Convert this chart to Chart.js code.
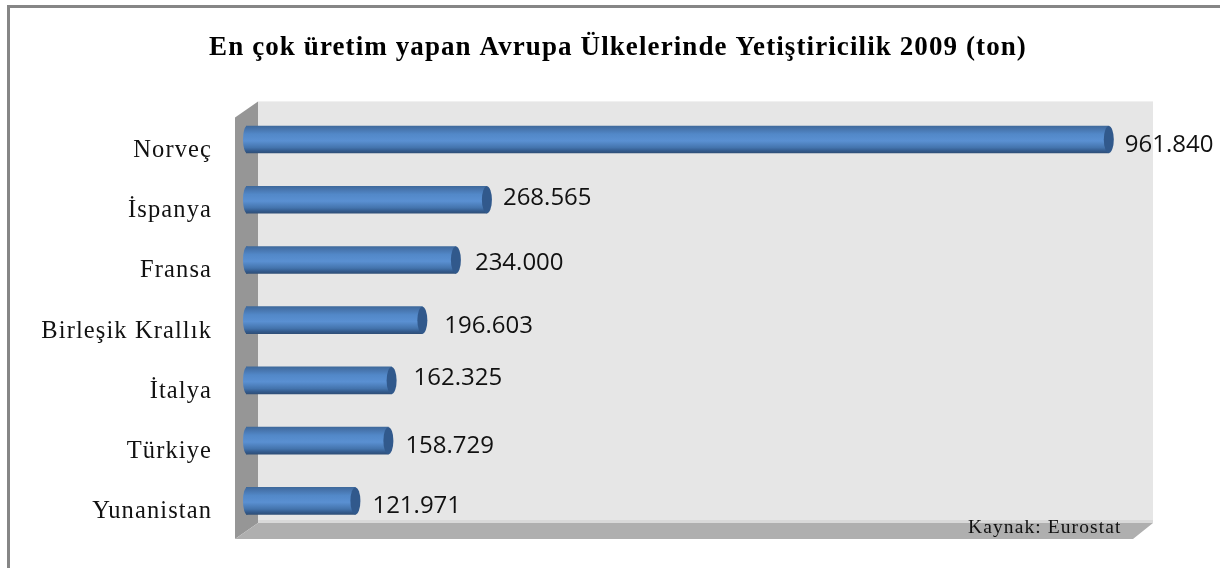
<!DOCTYPE html>
<html>
<head>
<meta charset="utf-8">
<style>
html, body { margin: 0; padding: 0; background: #fff; overflow: hidden; }
canvas { display: block; }
</style>
<script src="https://cdn.jsdelivr.net/npm/chart.js@4"></script>
</head>
<body>
<canvas id="chart" width="1220" height="568"></canvas>
<script>
const chartTitle = 'En çok üretim yapan Avrupa Ülkelerinde Yetiştiricilik 2009 (ton)';
const sourceNote = 'Kaynak: Eurostat';
const countries = ['Norveç', 'İspanya', 'Fransa', 'Birleşik Krallık', 'İtalya', 'Türkiye', 'Yunanistan'];
const production = [961840, 268565, 234000, 196603, 162325, 158729, 121971];
const valueLabels = ['961.840', '268.565', '234.000', '196.603', '162.325', '158.729', '121.971'];
// hand placed label nudges from the original, relative to the bar end
const labelNudgeX = [16, 16, 19, 22, 22, 17, 17];
const labelNudgeY = [6, -2, 3, 6, -2, 5, 5];

const BAR_H = 27;

function barGradient(ctx, y) {
    const g = ctx.createLinearGradient(0, y - BAR_H / 2, 0, y + BAR_H / 2);
    g.addColorStop(0, '#3f6a9c');
    g.addColorStop(0.1, '#4673ab');
    g.addColorStop(0.3, '#5288c8');
    g.addColorStop(0.55, '#5a90d2');
    g.addColorStop(0.8, '#4474ad');
    g.addColorStop(0.92, '#335a8c');
    g.addColorStop(1, '#2f4f78');
    return g;
}

// frame and the fake 3d walls behind the bars
const backdrop = {
    id: 'backdrop',
    beforeDraw(chart) {
        // the original text is stretched, title and axis labels alike
        chart.ctx.letterSpacing = '1.1px';
    },
    beforeDatasetsDraw(chart) {
        const { ctx, chartArea: a } = chart;
        ctx.save();
        ctx.fillStyle = '#868686';
        ctx.fillRect(7, 5, 1213, 3);
        ctx.fillRect(7, 5, 3, 563);

        const wallL = a.left + 12, wallR = a.right - 67;
        const wallT = a.top - 8, wallB = a.bottom - 8;
        const sideL = a.left - 11, sideR = wallR - 20;
        ctx.fillStyle = '#e6e6e6';
        ctx.fillRect(wallL, wallT, wallR - wallL, wallB - wallT);
        ctx.fillStyle = '#d9d9d9';
        ctx.fillRect(wallL, wallB - 3, wallR - wallL, 3);
        ctx.fillStyle = '#969696';
        ctx.beginPath();
        ctx.moveTo(sideL, wallT + 16);
        ctx.lineTo(wallL, wallT);
        ctx.lineTo(wallL, wallB);
        ctx.lineTo(sideL, wallB + 16);
        ctx.closePath();
        ctx.fill();
        ctx.fillStyle = '#afafaf';
        ctx.beginPath();
        ctx.moveTo(wallL, wallB);
        ctx.lineTo(wallR, wallB);
        ctx.lineTo(sideR, wallB + 16);
        ctx.lineTo(sideL, wallB + 16);
        ctx.closePath();
        ctx.fill();
        ctx.restore();
    },
    afterDatasetsDraw(chart) {
        const { ctx, chartArea: a } = chart;
        const bars = chart.getDatasetMeta(0).data;
        ctx.save();
        bars.forEach((bar, i) => {
            // cylinder ends
            ctx.fillStyle = barGradient(ctx, bar.y);
            ctx.beginPath();
            ctx.ellipse(a.left + 1, bar.y, 4, BAR_H / 2, 0, 0, Math.PI * 2);
            ctx.fill();
            ctx.fillStyle = '#31598c';
            ctx.beginPath();
            ctx.ellipse(bar.x, bar.y, 5, BAR_H / 2, 0, 0, Math.PI * 2);
            ctx.fill();

            ctx.letterSpacing = '0px';
            ctx.fillStyle = '#111';
            ctx.font = '24px "Open Sans"';
            ctx.textAlign = 'left';
            ctx.textBaseline = 'middle';
            ctx.fillText(valueLabels[i], bar.x + labelNudgeX[i], bar.y + labelNudgeY[i]);
        });
        ctx.letterSpacing = '1.1px';
        ctx.fillStyle = '#111';
        ctx.font = '19.5px "Liberation Serif"';
        ctx.textAlign = 'left';
        ctx.textBaseline = 'middle';
        ctx.fillText(sourceNote, 968, 528);
        ctx.restore();
    }
};

new Chart(document.getElementById('chart'), {
    type: 'bar',
    data: {
        labels: countries,
        datasets: [{
            data: production,
            barThickness: BAR_H,
            backgroundColor(c) {
                const chart = c.chart;
                if (!chart.chartArea) return '#4f81bd';
                return barGradient(chart.ctx, chart.scales.y.getPixelForValue(c.dataIndex));
            }
        }]
    },
    options: {
        indexAxis: 'y',
        responsive: false,
        animation: false,
        layout: { padding: { top: 0, right: 0, bottom: 37, left: 16 } },
        plugins: {
            legend: { display: false },
            tooltip: { enabled: false },
            title: {
                display: true,
                text: chartTitle,
                color: '#000',
                font: { family: '"Liberation Serif"', size: 27, weight: 'bold' },
                padding: { top: 32, bottom: 45 }
            }
        },
        scales: {
            x: { display: false, min: 0, max: 1085800 },
            y: {
                afterFit(scale) {
                    scale.width = 230;
                    scale.paddingTop = 0;
                    scale.paddingBottom = 0;
                },
                grid: { display: false },
                border: { display: false },
                ticks: {
                    color: '#111',
                    padding: 26,
                    labelOffset: 11,
                    font: { family: '"Liberation Serif"', size: 24.5 }
                }
            }
        }
    },
    plugins: [backdrop]
});
</script>
</body>
</html>
